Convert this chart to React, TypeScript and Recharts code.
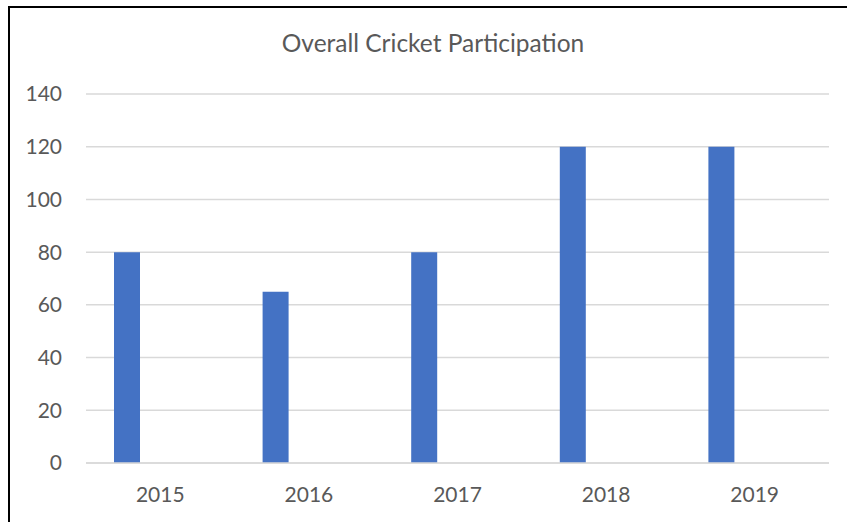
import React from "react";
import {BarChart, Bar, XAxis, YAxis, CartesianGrid} from "recharts";

const years = ["2015", "2016", "2017", "2018", "2019"];
const participation = [80, 65, 80, 120, 120];
// the source sheet had two more (empty) series, which push the blue bar left
const seriesB: (number | null)[] = [null, null, null, null, null];
const seriesC: (number | null)[] = [null, null, null, null, null];
const yTicks = [0, 20, 40, 60, 80, 100, 120, 140];

const data = years.map((year, i) => ({
    year,
    participation: participation[i],
    seriesB: seriesB[i],
    seriesC: seriesC[i]
}));

const font = "Lato, 'Open Sans', sans-serif";
const textColor = "#595959";
const gridColor = "#d9d9d9";

export default function App() {
    return (
        <div style={{
            position: "absolute",
            left: 8,
            top: 6,
            width: 839,
            height: 516,
            borderLeft: "2px solid #000",
            borderTop: "2px solid #000",
            fontFamily: font,
            overflow: "hidden"
        }}>
            <div style={{
                position: "absolute",
                left: 0,
                top: 20,
                width: 846,
                textAlign: "center",
                fontSize: 24.5,
                lineHeight: "30px",
                color: textColor,
                whiteSpace: "nowrap"
            }}>
                Overall Cricket Participation
            </div>
            <BarChart
                width={837}
                height={514}
                data={data}
                margin={{top: 86, right: 18, bottom: 0, left: 0}}
                barSize={26}
                barGap={7.3}
            >
                <CartesianGrid vertical={false} stroke={gridColor} strokeWidth={1.5}/>
                <XAxis
                    dataKey="year"
                    height={59}
                    axisLine={{stroke: gridColor, strokeWidth: 1.5}}
                    tickLine={false}
                    tickMargin={18}
                    tick={{fill: textColor, fontSize: 21, fontFamily: font}}
                />
                <YAxis
                    width={76}
                    domain={[0, 140]}
                    ticks={yTicks}
                    axisLine={false}
                    tickLine={false}
                    tickMargin={18}
                    tick={{fill: textColor, fontSize: 21, fontFamily: font}}
                />
                <Bar dataKey="participation" fill="#4472c4" isAnimationActive={false}/>
                <Bar dataKey="seriesB" fill="#ed7d31" isAnimationActive={false}/>
                <Bar dataKey="seriesC" fill="#a5a5a5" isAnimationActive={false}/>
            </BarChart>
        </div>
    );
}
